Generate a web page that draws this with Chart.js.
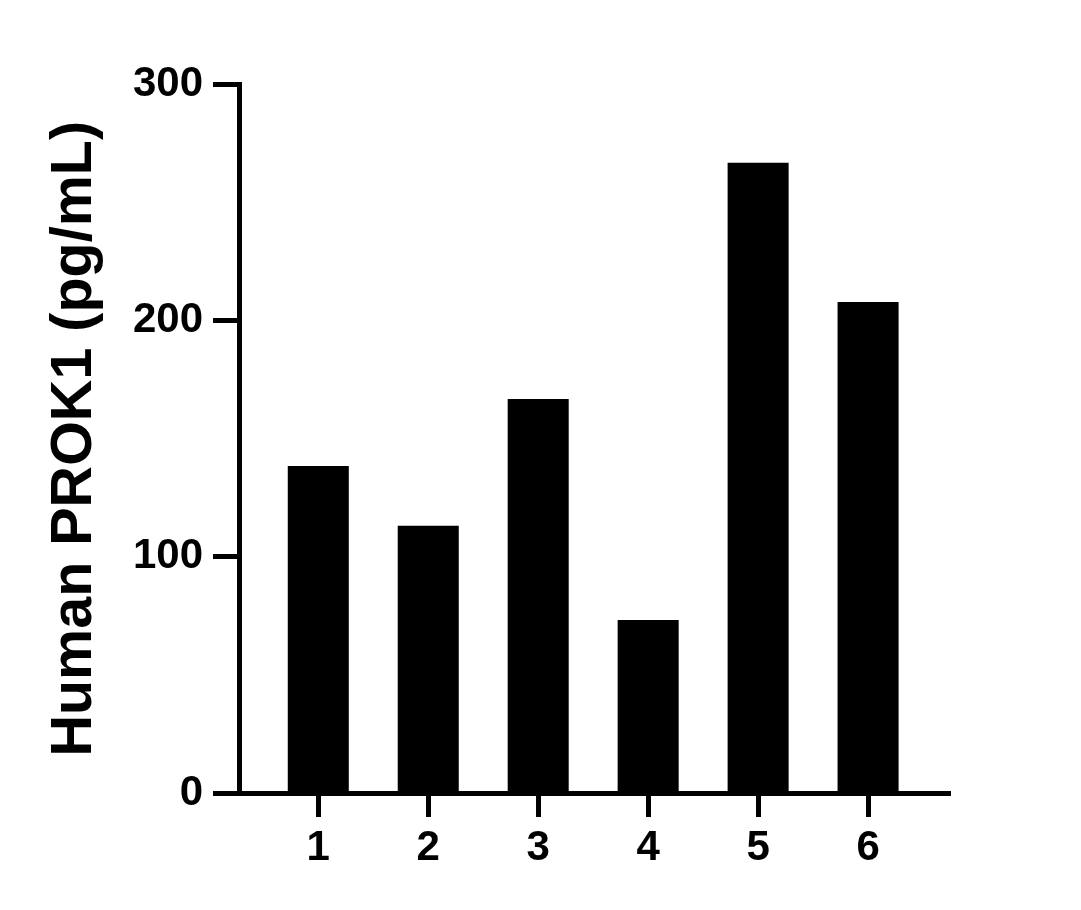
<!DOCTYPE html>
<html>
<head>
<meta charset="utf-8">
<script src="https://cdn.jsdelivr.net/npm/chart.js@4.4.1/dist/chart.umd.min.js"></script>
<style>
  html, body { margin: 0; padding: 0; background: #fff; }
  #wrap { width: 1081px; height: 910px; }
</style>
</head>
<body>
<div id="wrap"><canvas id="c" width="1081" height="910"></canvas></div>
<script>
const categories = [1, 2, 3, 4, 5, 6];
const categoryLabels = ['1', '2', '3', '4', '5', '6'];
const values = [138.5, 113.2, 166.8, 73.3, 266.9, 207.9];
const yTicks = [0, 100, 200, 300];
const yTitle = 'Human PROK1 (pg/mL)';

const FONT = '"Liberation Sans", Arial, Helvetica, sans-serif';

new Chart(document.getElementById('c'), {
  type: 'bar',
  data: {
    datasets: [{
      data: categories.map((c, i) => ({ x: c, y: values[i] })),
      backgroundColor: '#000',
      borderWidth: 0,
      categoryPercentage: 1,
      barPercentage: 0.555
    }]
  },
  options: {
    responsive: false,
    animation: false,
    devicePixelRatio: 1,
    layout: { padding: { top: 84.5, right: 131, left: 0, bottom: 0 } },
    plugins: { legend: { display: false }, tooltip: { enabled: false } },
    scales: {
      x: {
        type: 'linear',
        offset: false,
        min: 0.279,
        max: 6.745,
        afterBuildTicks: s => { s.ticks = categories.map(v => ({ value: v })); },
        afterFit: s => { s.height = 910 - 793; },
        ticks: {
          callback: (v) => categoryLabels[categories.indexOf(v)] ?? '',
          color: '#000',
          font: { family: FONT, size: 42, weight: 'bold' },
          padding: 6,
          maxRotation: 0,
          autoSkip: false
        },
        grid: { offset: false, drawOnChartArea: false, drawTicks: true, tickLength: 24, tickWidth: 5, tickColor: '#000' },
        border: { display: true, width: 5, color: '#000' }
      },
      y: {
        min: 0,
        max: 300,
        afterBuildTicks: s => { s.ticks = yTicks.map(v => ({ value: v })); },
        afterFit: s => { s.width = 239; },
        ticks: {
          color: '#000',
          font: { family: FONT, size: 42, weight: 'bold' },
          padding: 10
        },
        grid: { drawOnChartArea: false, drawTicks: true, tickLength: 26, tickWidth: 5, tickColor: '#000' },
        border: { display: true, width: 5, color: '#000' },
        title: {
          display: true,
          text: yTitle,
          color: '#000',
          font: { family: FONT, size: 57.5, weight: 'bold', lineHeight: 1.2 },
          padding: { top: 40.5, bottom: 0 }
        }
      }
    }
  }
});
</script>
</body>
</html>
